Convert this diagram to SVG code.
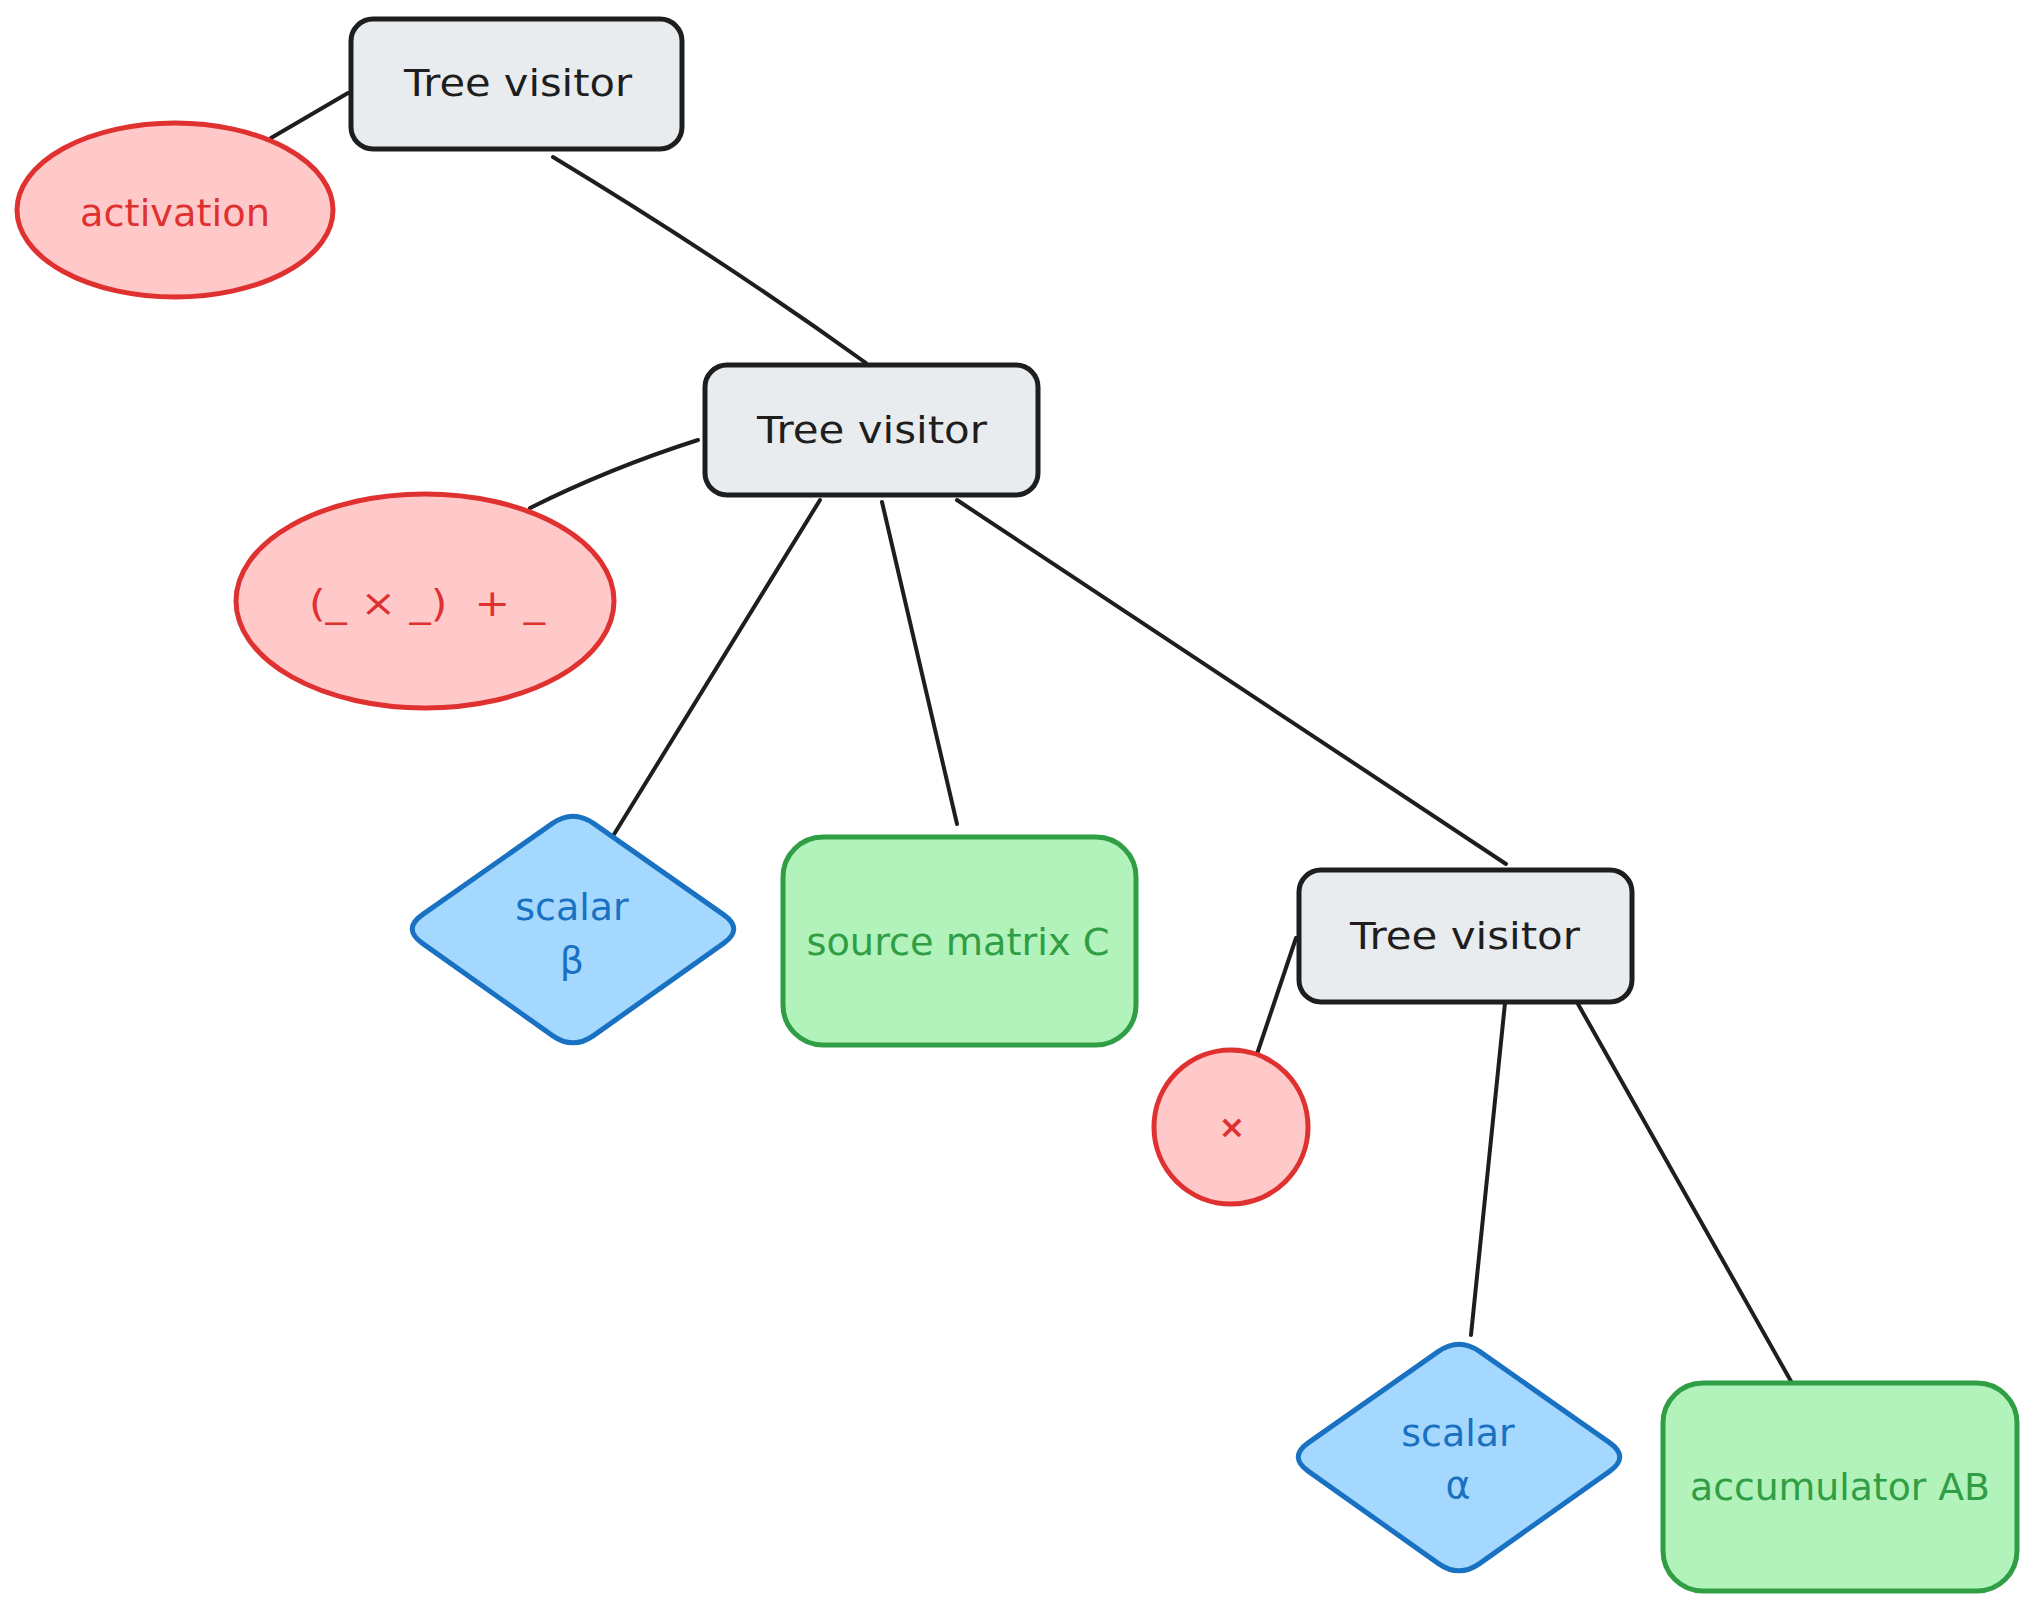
<svg xmlns="http://www.w3.org/2000/svg" width="2036" height="1610" viewBox="0 0 2036 1610">
<defs>
<style>
.gray{fill:#e9ecef;stroke:#1e1e1e;stroke-width:5;}
.red{fill:#ffc9c9;stroke:#e03131;stroke-width:5;}
.blue{fill:#a5d8ff;stroke:#1971c2;stroke-width:5;}
.green{fill:#b2f2bb;stroke:#2f9e44;stroke-width:5;}
.conn line,.conn path{stroke:#1e1e1e;stroke-width:4;stroke-linecap:round;fill:none;}
text{font-family:"DejaVu Sans","Liberation Sans",sans-serif;font-size:38px;text-anchor:middle;dominant-baseline:central;}
.tk{fill:#1e1e1e;}
.tr{fill:#e03131;}
.tb{fill:#1971c2;}
.tg{fill:#2f9e44;}
</style>
<path id="dia" d="M593.5,823.4 L723.5,914.6 Q744,929 723.5,943.4 L593.5,1035.6 Q573,1050 552.5,1035.6 L422.5,943.4 Q402,929 422.5,914.6 L552.5,823.4 Q573,809 593.5,823.4 Z"/>
</defs>
<rect width="2036" height="1610" fill="#ffffff"/>
<g id="connectors" class="conn">
<line x1="271" y1="138" x2="348" y2="93"/>
<path d="M553,157 Q720,258 866,363"/>
<path d="M530,508 Q610,468 698,440"/>
<line x1="820" y1="500" x2="613" y2="836"/>
<line x1="882" y1="502" x2="957" y2="824"/>
<line x1="957" y1="500" x2="1506" y2="864"/>
<line x1="1296" y1="938" x2="1257" y2="1054"/>
<line x1="1505" y1="1003" x2="1471" y2="1335"/>
<line x1="1578" y1="1004" x2="1792" y2="1383"/>
</g>
<g id="tree-visitor-1">
<rect class="gray" x="351" y="19" width="331" height="130" rx="22"/>
<text class="tk" x="518" y="83" textLength="228" lengthAdjust="spacingAndGlyphs">Tree visitor</text>
</g>
<g id="activation">
<ellipse class="red" cx="175" cy="210" rx="158" ry="87"/>
<text class="tr" x="175" y="213" textLength="190" lengthAdjust="spacingAndGlyphs">activation</text>
</g>
<g id="tree-visitor-2">
<rect class="gray" x="705" y="365" width="333" height="130" rx="22"/>
<text class="tk" x="872" y="430" textLength="230" lengthAdjust="spacingAndGlyphs">Tree visitor</text>
</g>
<g id="mul-add">
<ellipse class="red" cx="425" cy="601" rx="189" ry="107"/>
<text class="tr" x="427" y="603" textLength="236" lengthAdjust="spacingAndGlyphs" xml:space="preserve">(_ × _)  + _</text>
</g>
<g id="scalar-beta">
<use href="#dia" class="blue"/>
<text class="tb" x="572" y="907">scalar</text>
<text class="tb" x="572" y="960">β</text>
</g>
<g id="source-matrix-c">
<rect class="green" x="783" y="837" width="353" height="208" rx="40"/>
<text class="tg" x="958" y="942" textLength="303" lengthAdjust="spacingAndGlyphs">source matrix C</text>
</g>
<g id="tree-visitor-3">
<rect class="gray" x="1299" y="870" width="333" height="132" rx="22"/>
<text class="tk" x="1465" y="936" textLength="230" lengthAdjust="spacingAndGlyphs">Tree visitor</text>
</g>
<g id="mul">
<circle class="red" cx="1231" cy="1127" r="77"/>
<text class="tr" x="1232" y="1127" style="font-size:32px;font-weight:bold">×</text>
</g>
<g id="scalar-alpha">
<use href="#dia" class="blue" transform="translate(886,528)"/>
<text class="tb" x="1458" y="1433">scalar</text>
<text class="tb" x="1458" y="1485">α</text>
</g>
<g id="accumulator-ab">
<rect class="green" x="1663" y="1383" width="354" height="208" rx="40"/>
<text class="tg" x="1840" y="1487" textLength="300" lengthAdjust="spacingAndGlyphs">accumulator AB</text>
</g>
</svg>
